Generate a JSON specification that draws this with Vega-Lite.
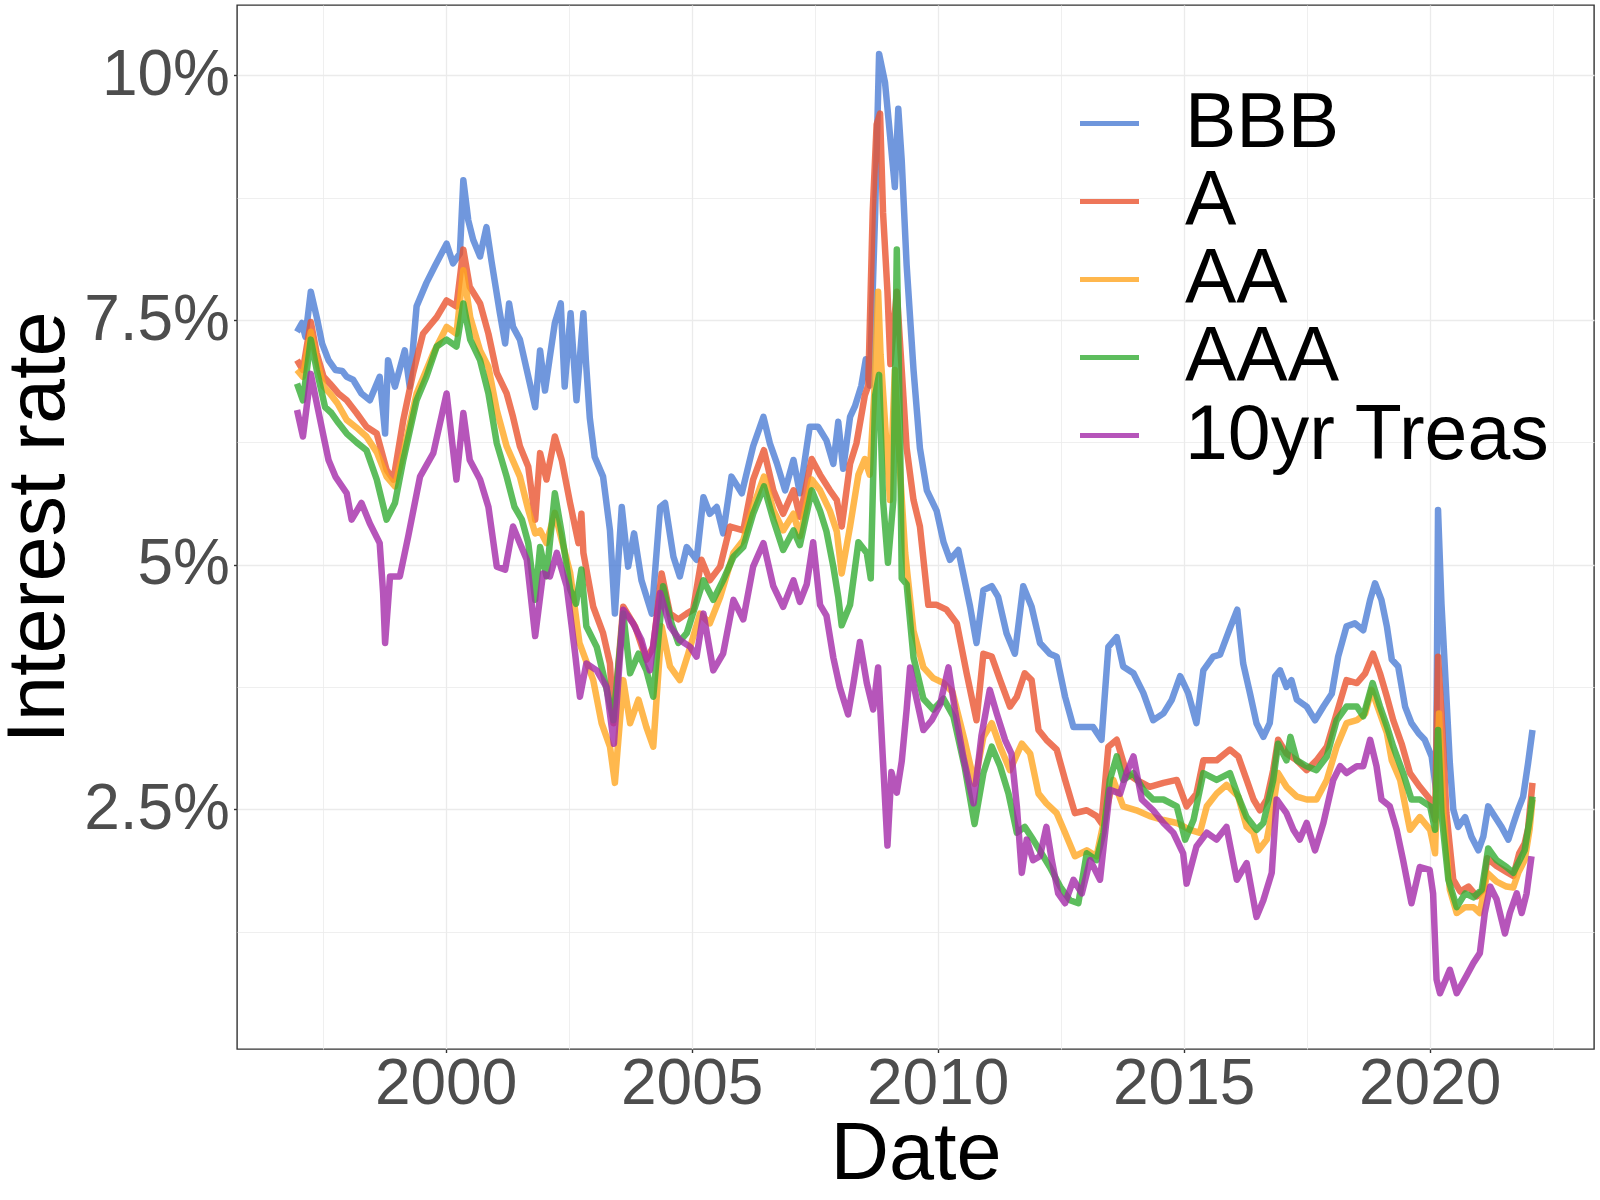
{
  "$schema": "https://vega.github.io/schema/vega-lite/v6.json",
  "width": 1357,
  "height": 1044,
  "autosize": {"type": "none"},
  "padding": {"left": 237, "top": 5, "right": 6, "bottom": 151},
  "background": "white",
  "config": {
    "view": {"stroke": "#333333", "strokeWidth": 1.4},
    "font": "Liberation Sans",
    "axis": {
      "labelFont": "Liberation Sans",
      "titleFont": "Liberation Sans",
      "labelColor": "#4D4D4D",
      "titleColor": "black",
      "labelFontSize": 64,
      "titleFontSize": 81,
      "titleFontWeight": "normal",
      "domain": false,
      "gridColor": "#EBEBEB",
      "tickColor": "#333333",
      "tickWidth": 1.4,
      "labelOverlap": false,
      "labelFlush": false
    }
  },
  "data": {
    "values": [
      {"s":"BBB","x":1996.98,"y":7.38},{"s":"BBB","x":1997.08,"y":7.47},{"s":"BBB","x":1997.15,"y":7.33},{"s":"BBB","x":1997.26,"y":7.79},
      {"s":"BBB","x":1997.38,"y":7.53},{"s":"BBB","x":1997.49,"y":7.26},{"s":"BBB","x":1997.62,"y":7.09},{"s":"BBB","x":1997.76,"y":6.99},
      {"s":"BBB","x":1997.9,"y":6.98},{"s":"BBB","x":1997.99,"y":6.92},{"s":"BBB","x":1998.12,"y":6.89},{"s":"BBB","x":1998.29,"y":6.75},
      {"s":"BBB","x":1998.46,"y":6.68},{"s":"BBB","x":1998.66,"y":6.92},{"s":"BBB","x":1998.77,"y":6.34},{"s":"BBB","x":1998.83,"y":7.09},
      {"s":"BBB","x":1998.97,"y":6.82},{"s":"BBB","x":1999.17,"y":7.19},{"s":"BBB","x":1999.27,"y":6.82},{"s":"BBB","x":1999.41,"y":7.64},
      {"s":"BBB","x":1999.61,"y":7.88},{"s":"BBB","x":1999.78,"y":8.05},{"s":"BBB","x":2000.02,"y":8.28},{"s":"BBB","x":2000.15,"y":8.08},
      {"s":"BBB","x":2000.29,"y":8.18},{"s":"BBB","x":2000.36,"y":8.93},{"s":"BBB","x":2000.46,"y":8.52},{"s":"BBB","x":2000.56,"y":8.32},
      {"s":"BBB","x":2000.7,"y":8.15},{"s":"BBB","x":2000.83,"y":8.45},{"s":"BBB","x":2000.93,"y":8.11},{"s":"BBB","x":2001.1,"y":7.58},
      {"s":"BBB","x":2001.21,"y":7.26},{"s":"BBB","x":2001.29,"y":7.67},{"s":"BBB","x":2001.37,"y":7.43},{"s":"BBB","x":2001.51,"y":7.3},
      {"s":"BBB","x":2001.65,"y":6.99},{"s":"BBB","x":2001.82,"y":6.61},{"s":"BBB","x":2001.92,"y":7.19},{"s":"BBB","x":2002.02,"y":6.78},
      {"s":"BBB","x":2002.12,"y":7.13},{"s":"BBB","x":2002.22,"y":7.47},{"s":"BBB","x":2002.34,"y":7.67},{"s":"BBB","x":2002.42,"y":6.82},
      {"s":"BBB","x":2002.54,"y":7.57},{"s":"BBB","x":2002.66,"y":6.68},{"s":"BBB","x":2002.8,"y":7.57},{"s":"BBB","x":2002.85,"y":7.09},
      {"s":"BBB","x":2002.93,"y":6.5},{"s":"BBB","x":2003.03,"y":6.1},{"s":"BBB","x":2003.2,"y":5.9},{"s":"BBB","x":2003.34,"y":5.35},
      {"s":"BBB","x":2003.44,"y":4.5},{"s":"BBB","x":2003.58,"y":5.59},{"s":"BBB","x":2003.71,"y":4.98},{"s":"BBB","x":2003.83,"y":5.32},
      {"s":"BBB","x":2003.98,"y":4.84},{"s":"BBB","x":2004.19,"y":4.5},{"s":"BBB","x":2004.36,"y":5.59},{"s":"BBB","x":2004.46,"y":5.63},
      {"s":"BBB","x":2004.63,"y":5.08},{"s":"BBB","x":2004.76,"y":4.88},{"s":"BBB","x":2004.9,"y":5.18},{"s":"BBB","x":2005.1,"y":5.05},
      {"s":"BBB","x":2005.24,"y":5.69},{"s":"BBB","x":2005.37,"y":5.52},{"s":"BBB","x":2005.51,"y":5.59},{"s":"BBB","x":2005.64,"y":5.32},
      {"s":"BBB","x":2005.81,"y":5.9},{"s":"BBB","x":2006.02,"y":5.73},{"s":"BBB","x":2006.25,"y":6.21},{"s":"BBB","x":2006.46,"y":6.51},
      {"s":"BBB","x":2006.59,"y":6.24},{"s":"BBB","x":2006.73,"y":6.04},{"s":"BBB","x":2006.9,"y":5.76},{"s":"BBB","x":2007.07,"y":6.07},
      {"s":"BBB","x":2007.2,"y":5.73},{"s":"BBB","x":2007.4,"y":6.41},{"s":"BBB","x":2007.57,"y":6.41},{"s":"BBB","x":2007.74,"y":6.27},
      {"s":"BBB","x":2007.88,"y":6.03},{"s":"BBB","x":2007.98,"y":6.46},{"s":"BBB","x":2008.08,"y":5.98},{"s":"BBB","x":2008.22,"y":6.51},
      {"s":"BBB","x":2008.32,"y":6.62},{"s":"BBB","x":2008.45,"y":6.83},{"s":"BBB","x":2008.54,"y":7.1},{"s":"BBB","x":2008.62,"y":6.83},
      {"s":"BBB","x":2008.73,"y":8.6},{"s":"BBB","x":2008.81,"y":10.22},{"s":"BBB","x":2008.93,"y":9.93},{"s":"BBB","x":2009.03,"y":9.4},
      {"s":"BBB","x":2009.13,"y":8.86},{"s":"BBB","x":2009.2,"y":9.66},{"s":"BBB","x":2009.27,"y":9.13},{"s":"BBB","x":2009.37,"y":8.06},
      {"s":"BBB","x":2009.51,"y":6.99},{"s":"BBB","x":2009.64,"y":6.19},{"s":"BBB","x":2009.78,"y":5.76},{"s":"BBB","x":2009.98,"y":5.55},
      {"s":"BBB","x":2010.12,"y":5.23},{"s":"BBB","x":2010.25,"y":5.05},{"s":"BBB","x":2010.42,"y":5.15},{"s":"BBB","x":2010.52,"y":4.91},
      {"s":"BBB","x":2010.66,"y":4.57},{"s":"BBB","x":2010.79,"y":4.2},{"s":"BBB","x":2010.93,"y":4.74},{"s":"BBB","x":2011.1,"y":4.78},
      {"s":"BBB","x":2011.23,"y":4.67},{"s":"BBB","x":2011.4,"y":4.3},{"s":"BBB","x":2011.57,"y":4.09},{"s":"BBB","x":2011.74,"y":4.78},
      {"s":"BBB","x":2011.91,"y":4.57},{"s":"BBB","x":2012.08,"y":4.2},{"s":"BBB","x":2012.28,"y":4.09},{"s":"BBB","x":2012.42,"y":4.06},
      {"s":"BBB","x":2012.59,"y":3.65},{"s":"BBB","x":2012.76,"y":3.34},{"s":"BBB","x":2012.96,"y":3.34},{"s":"BBB","x":2013.16,"y":3.34},
      {"s":"BBB","x":2013.33,"y":3.21},{"s":"BBB","x":2013.47,"y":4.16},{"s":"BBB","x":2013.64,"y":4.26},{"s":"BBB","x":2013.77,"y":3.96},
      {"s":"BBB","x":2013.98,"y":3.89},{"s":"BBB","x":2014.18,"y":3.69},{"s":"BBB","x":2014.38,"y":3.41},{"s":"BBB","x":2014.59,"y":3.48},
      {"s":"BBB","x":2014.76,"y":3.62},{"s":"BBB","x":2014.93,"y":3.86},{"s":"BBB","x":2015.09,"y":3.69},{"s":"BBB","x":2015.26,"y":3.38},
      {"s":"BBB","x":2015.4,"y":3.92},{"s":"BBB","x":2015.6,"y":4.06},{"s":"BBB","x":2015.74,"y":4.08},{"s":"BBB","x":2015.94,"y":4.35},
      {"s":"BBB","x":2016.09,"y":4.54},{"s":"BBB","x":2016.21,"y":3.99},{"s":"BBB","x":2016.35,"y":3.68},{"s":"BBB","x":2016.48,"y":3.38},
      {"s":"BBB","x":2016.62,"y":3.24},{"s":"BBB","x":2016.75,"y":3.38},{"s":"BBB","x":2016.86,"y":3.86},{"s":"BBB","x":2016.96,"y":3.92},
      {"s":"BBB","x":2017.09,"y":3.75},{"s":"BBB","x":2017.19,"y":3.82},{"s":"BBB","x":2017.3,"y":3.62},{"s":"BBB","x":2017.5,"y":3.55},
      {"s":"BBB","x":2017.67,"y":3.41},{"s":"BBB","x":2017.84,"y":3.55},{"s":"BBB","x":2018.01,"y":3.68},{"s":"BBB","x":2018.14,"y":4.06},
      {"s":"BBB","x":2018.31,"y":4.37},{"s":"BBB","x":2018.48,"y":4.4},{"s":"BBB","x":2018.65,"y":4.33},{"s":"BBB","x":2018.79,"y":4.64},
      {"s":"BBB","x":2018.89,"y":4.81},{"s":"BBB","x":2019.02,"y":4.64},{"s":"BBB","x":2019.13,"y":4.37},{"s":"BBB","x":2019.23,"y":4.03},
      {"s":"BBB","x":2019.36,"y":3.96},{"s":"BBB","x":2019.5,"y":3.55},{"s":"BBB","x":2019.63,"y":3.38},{"s":"BBB","x":2019.77,"y":3.28},
      {"s":"BBB","x":2019.9,"y":3.21},{"s":"BBB","x":2020.04,"y":3.04},{"s":"BBB","x":2020.13,"y":2.7},{"s":"BBB","x":2020.17,"y":5.56},
      {"s":"BBB","x":2020.24,"y":4.6},{"s":"BBB","x":2020.34,"y":3.65},{"s":"BBB","x":2020.41,"y":2.97},{"s":"BBB","x":2020.48,"y":2.5},
      {"s":"BBB","x":2020.58,"y":2.32},{"s":"BBB","x":2020.72,"y":2.42},{"s":"BBB","x":2020.85,"y":2.22},{"s":"BBB","x":2020.99,"y":2.08},
      {"s":"BBB","x":2021.09,"y":2.22},{"s":"BBB","x":2021.19,"y":2.53},{"s":"BBB","x":2021.33,"y":2.42},{"s":"BBB","x":2021.46,"y":2.32},
      {"s":"BBB","x":2021.6,"y":2.19},{"s":"BBB","x":2021.7,"y":2.35},{"s":"BBB","x":2021.8,"y":2.5},{"s":"BBB","x":2021.9,"y":2.63},
      {"s":"BBB","x":2022.0,"y":2.97},{"s":"BBB","x":2022.09,"y":3.31},

      {"s":"A","x":1996.98,"y":7.09},{"s":"A","x":1997.1,"y":6.99},{"s":"A","x":1997.26,"y":7.48},{"s":"A","x":1997.38,"y":7.16},
      {"s":"A","x":1997.52,"y":6.92},{"s":"A","x":1997.65,"y":6.85},{"s":"A","x":1997.82,"y":6.75},{"s":"A","x":1997.99,"y":6.68},
      {"s":"A","x":1998.19,"y":6.55},{"s":"A","x":1998.39,"y":6.41},{"s":"A","x":1998.6,"y":6.34},{"s":"A","x":1998.8,"y":5.97},
      {"s":"A","x":1998.94,"y":5.87},{"s":"A","x":1999.14,"y":6.48},{"s":"A","x":1999.34,"y":6.96},{"s":"A","x":1999.54,"y":7.36},
      {"s":"A","x":1999.82,"y":7.53},{"s":"A","x":2000.02,"y":7.7},{"s":"A","x":2000.22,"y":7.64},{"s":"A","x":2000.36,"y":8.22},
      {"s":"A","x":2000.49,"y":7.84},{"s":"A","x":2000.7,"y":7.67},{"s":"A","x":2000.87,"y":7.36},{"s":"A","x":2001.04,"y":6.96},
      {"s":"A","x":2001.24,"y":6.75},{"s":"A","x":2001.37,"y":6.51},{"s":"A","x":2001.51,"y":6.21},{"s":"A","x":2001.68,"y":6.0},
      {"s":"A","x":2001.82,"y":5.46},{"s":"A","x":2001.92,"y":6.14},{"s":"A","x":2002.05,"y":5.87},{"s":"A","x":2002.22,"y":6.31},
      {"s":"A","x":2002.36,"y":6.07},{"s":"A","x":2002.53,"y":5.63},{"s":"A","x":2002.7,"y":5.22},{"s":"A","x":2002.76,"y":5.52},
      {"s":"A","x":2002.8,"y":5.12},{"s":"A","x":2003.0,"y":4.57},{"s":"A","x":2003.2,"y":4.3},{"s":"A","x":2003.34,"y":3.99},
      {"s":"A","x":2003.41,"y":3.38},{"s":"A","x":2003.61,"y":4.57},{"s":"A","x":2003.85,"y":4.37},{"s":"A","x":2004.08,"y":4.03},
      {"s":"A","x":2004.22,"y":4.16},{"s":"A","x":2004.39,"y":4.91},{"s":"A","x":2004.56,"y":4.5},{"s":"A","x":2004.73,"y":4.44},
      {"s":"A","x":2004.9,"y":4.5},{"s":"A","x":2005.03,"y":4.54},{"s":"A","x":2005.2,"y":5.05},{"s":"A","x":2005.37,"y":4.84},
      {"s":"A","x":2005.58,"y":4.98},{"s":"A","x":2005.78,"y":5.39},{"s":"A","x":2006.05,"y":5.35},{"s":"A","x":2006.25,"y":5.87},
      {"s":"A","x":2006.47,"y":6.17},{"s":"A","x":2006.66,"y":5.76},{"s":"A","x":2006.86,"y":5.52},{"s":"A","x":2007.07,"y":5.76},
      {"s":"A","x":2007.2,"y":5.49},{"s":"A","x":2007.44,"y":6.08},{"s":"A","x":2007.61,"y":5.92},{"s":"A","x":2007.81,"y":5.76},
      {"s":"A","x":2007.95,"y":5.66},{"s":"A","x":2008.05,"y":5.39},{"s":"A","x":2008.22,"y":6.03},{"s":"A","x":2008.35,"y":6.24},
      {"s":"A","x":2008.52,"y":6.73},{"s":"A","x":2008.59,"y":6.83},{"s":"A","x":2008.68,"y":8.6},{"s":"A","x":2008.76,"y":9.5},
      {"s":"A","x":2008.83,"y":9.61},{"s":"A","x":2008.89,"y":8.6},{"s":"A","x":2008.98,"y":7.79},{"s":"A","x":2009.04,"y":7.05},
      {"s":"A","x":2009.17,"y":7.79},{"s":"A","x":2009.27,"y":6.99},{"s":"A","x":2009.37,"y":6.19},{"s":"A","x":2009.51,"y":5.66},
      {"s":"A","x":2009.64,"y":5.39},{"s":"A","x":2009.81,"y":4.59},{"s":"A","x":2009.98,"y":4.59},{"s":"A","x":2010.18,"y":4.54},
      {"s":"A","x":2010.39,"y":4.4},{"s":"A","x":2010.59,"y":3.89},{"s":"A","x":2010.79,"y":3.41},{"s":"A","x":2010.93,"y":4.09},
      {"s":"A","x":2011.1,"y":4.06},{"s":"A","x":2011.27,"y":3.82},{"s":"A","x":2011.47,"y":3.55},{"s":"A","x":2011.61,"y":3.65},
      {"s":"A","x":2011.77,"y":3.89},{"s":"A","x":2011.91,"y":3.82},{"s":"A","x":2012.05,"y":3.31},{"s":"A","x":2012.21,"y":3.21},
      {"s":"A","x":2012.42,"y":3.11},{"s":"A","x":2012.59,"y":2.8},{"s":"A","x":2012.79,"y":2.46},{"s":"A","x":2013.03,"y":2.49},
      {"s":"A","x":2013.23,"y":2.43},{"s":"A","x":2013.33,"y":2.36},{"s":"A","x":2013.47,"y":3.14},{"s":"A","x":2013.64,"y":3.21},
      {"s":"A","x":2013.84,"y":2.87},{"s":"A","x":2014.04,"y":2.8},{"s":"A","x":2014.31,"y":2.73},{"s":"A","x":2014.59,"y":2.77},
      {"s":"A","x":2014.86,"y":2.8},{"s":"A","x":2015.06,"y":2.53},{"s":"A","x":2015.26,"y":2.66},{"s":"A","x":2015.4,"y":3.0},
      {"s":"A","x":2015.67,"y":3.0},{"s":"A","x":2015.94,"y":3.11},{"s":"A","x":2016.11,"y":3.04},{"s":"A","x":2016.28,"y":2.8},
      {"s":"A","x":2016.42,"y":2.6},{"s":"A","x":2016.55,"y":2.49},{"s":"A","x":2016.69,"y":2.6},{"s":"A","x":2016.82,"y":2.9},
      {"s":"A","x":2016.92,"y":3.21},{"s":"A","x":2017.09,"y":3.07},{"s":"A","x":2017.3,"y":3.0},{"s":"A","x":2017.5,"y":2.9},
      {"s":"A","x":2017.7,"y":3.0},{"s":"A","x":2017.91,"y":3.14},{"s":"A","x":2018.11,"y":3.48},{"s":"A","x":2018.31,"y":3.82},
      {"s":"A","x":2018.52,"y":3.79},{"s":"A","x":2018.69,"y":3.89},{"s":"A","x":2018.85,"y":4.09},{"s":"A","x":2018.99,"y":3.89},
      {"s":"A","x":2019.13,"y":3.65},{"s":"A","x":2019.26,"y":3.41},{"s":"A","x":2019.43,"y":3.17},{"s":"A","x":2019.6,"y":2.87},
      {"s":"A","x":2019.8,"y":2.73},{"s":"A","x":2020.01,"y":2.6},{"s":"A","x":2020.11,"y":2.39},{"s":"A","x":2020.17,"y":4.06},
      {"s":"A","x":2020.24,"y":3.48},{"s":"A","x":2020.34,"y":2.46},{"s":"A","x":2020.48,"y":1.78},{"s":"A","x":2020.62,"y":1.66},
      {"s":"A","x":2020.79,"y":1.71},{"s":"A","x":2020.96,"y":1.61},{"s":"A","x":2021.09,"y":1.68},{"s":"A","x":2021.17,"y":2.0},
      {"s":"A","x":2021.36,"y":1.92},{"s":"A","x":2021.56,"y":1.86},{"s":"A","x":2021.7,"y":1.82},{"s":"A","x":2021.82,"y":2.05},
      {"s":"A","x":2021.93,"y":2.15},{"s":"A","x":2022.0,"y":2.3},{"s":"A","x":2022.09,"y":2.77},

      {"s":"AA","x":1996.98,"y":6.99},{"s":"AA","x":1997.1,"y":6.92},{"s":"AA","x":1997.26,"y":7.38},{"s":"AA","x":1997.38,"y":7.09},
      {"s":"AA","x":1997.52,"y":6.82},{"s":"AA","x":1997.65,"y":6.75},{"s":"AA","x":1997.8,"y":6.65},{"s":"AA","x":1997.99,"y":6.48},
      {"s":"AA","x":1998.19,"y":6.4},{"s":"AA","x":1998.39,"y":6.31},{"s":"AA","x":1998.6,"y":6.15},{"s":"AA","x":1998.8,"y":5.9},
      {"s":"AA","x":1998.97,"y":5.8},{"s":"AA","x":1999.14,"y":6.14},{"s":"AA","x":1999.41,"y":6.75},{"s":"AA","x":1999.75,"y":7.16},
      {"s":"AA","x":2000.02,"y":7.43},{"s":"AA","x":2000.22,"y":7.36},{"s":"AA","x":2000.36,"y":8.01},{"s":"AA","x":2000.5,"y":7.53},
      {"s":"AA","x":2000.7,"y":7.19},{"s":"AA","x":2000.87,"y":7.02},{"s":"AA","x":2001.04,"y":6.58},{"s":"AA","x":2001.24,"y":6.21},
      {"s":"AA","x":2001.51,"y":5.9},{"s":"AA","x":2001.68,"y":5.56},{"s":"AA","x":2001.82,"y":5.32},{"s":"AA","x":2001.92,"y":5.35},
      {"s":"AA","x":2002.05,"y":5.22},{"s":"AA","x":2002.22,"y":5.53},{"s":"AA","x":2002.36,"y":5.25},{"s":"AA","x":2002.53,"y":4.92},
      {"s":"AA","x":2002.72,"y":4.2},{"s":"AA","x":2003.0,"y":3.82},{"s":"AA","x":2003.17,"y":3.38},{"s":"AA","x":2003.34,"y":3.14},
      {"s":"AA","x":2003.44,"y":2.77},{"s":"AA","x":2003.61,"y":3.82},{"s":"AA","x":2003.75,"y":3.38},{"s":"AA","x":2003.92,"y":3.62},
      {"s":"AA","x":2004.08,"y":3.34},{"s":"AA","x":2004.22,"y":3.14},{"s":"AA","x":2004.39,"y":4.37},{"s":"AA","x":2004.56,"y":3.96},
      {"s":"AA","x":2004.76,"y":3.82},{"s":"AA","x":2004.93,"y":4.09},{"s":"AA","x":2005.17,"y":4.5},{"s":"AA","x":2005.37,"y":4.4},
      {"s":"AA","x":2005.58,"y":4.67},{"s":"AA","x":2005.85,"y":5.12},{"s":"AA","x":2006.05,"y":5.25},{"s":"AA","x":2006.25,"y":5.59},
      {"s":"AA","x":2006.47,"y":5.9},{"s":"AA","x":2006.66,"y":5.56},{"s":"AA","x":2006.86,"y":5.35},{"s":"AA","x":2007.07,"y":5.52},
      {"s":"AA","x":2007.2,"y":5.29},{"s":"AA","x":2007.44,"y":5.87},{"s":"AA","x":2007.61,"y":5.76},{"s":"AA","x":2007.81,"y":5.55},
      {"s":"AA","x":2007.95,"y":5.34},{"s":"AA","x":2008.05,"y":4.91},{"s":"AA","x":2008.22,"y":5.39},{"s":"AA","x":2008.39,"y":5.92},
      {"s":"AA","x":2008.52,"y":6.08},{"s":"AA","x":2008.62,"y":5.92},{"s":"AA","x":2008.71,"y":6.73},{"s":"AA","x":2008.79,"y":7.79},
      {"s":"AA","x":2008.84,"y":7.15},{"s":"AA","x":2008.93,"y":6.46},{"s":"AA","x":2009.03,"y":5.66},{"s":"AA","x":2009.13,"y":6.99},
      {"s":"AA","x":2009.24,"y":5.92},{"s":"AA","x":2009.34,"y":5.12},{"s":"AA","x":2009.51,"y":4.32},{"s":"AA","x":2009.71,"y":3.95},
      {"s":"AA","x":2009.91,"y":3.84},{"s":"AA","x":2010.12,"y":3.79},{"s":"AA","x":2010.3,"y":3.7},{"s":"AA","x":2010.55,"y":3.2},
      {"s":"AA","x":2010.75,"y":2.76},{"s":"AA","x":2010.93,"y":3.24},{"s":"AA","x":2011.1,"y":3.38},{"s":"AA","x":2011.27,"y":3.14},
      {"s":"AA","x":2011.47,"y":2.9},{"s":"AA","x":2011.71,"y":3.17},{"s":"AA","x":2011.88,"y":3.07},{"s":"AA","x":2012.05,"y":2.66},
      {"s":"AA","x":2012.21,"y":2.56},{"s":"AA","x":2012.42,"y":2.46},{"s":"AA","x":2012.59,"y":2.26},{"s":"AA","x":2012.79,"y":2.02},
      {"s":"AA","x":2013.03,"y":2.08},{"s":"AA","x":2013.23,"y":2.02},{"s":"AA","x":2013.4,"y":2.43},{"s":"AA","x":2013.57,"y":2.8},
      {"s":"AA","x":2013.77,"y":2.53},{"s":"AA","x":2014.04,"y":2.49},{"s":"AA","x":2014.31,"y":2.43},{"s":"AA","x":2014.59,"y":2.39},
      {"s":"AA","x":2014.86,"y":2.36},{"s":"AA","x":2015.13,"y":2.29},{"s":"AA","x":2015.33,"y":2.26},{"s":"AA","x":2015.47,"y":2.53},
      {"s":"AA","x":2015.67,"y":2.66},{"s":"AA","x":2015.87,"y":2.75},{"s":"AA","x":2016.11,"y":2.63},{"s":"AA","x":2016.28,"y":2.32},
      {"s":"AA","x":2016.42,"y":2.26},{"s":"AA","x":2016.52,"y":2.08},{"s":"AA","x":2016.69,"y":2.19},{"s":"AA","x":2016.82,"y":2.53},
      {"s":"AA","x":2016.92,"y":2.87},{"s":"AA","x":2017.09,"y":2.73},{"s":"AA","x":2017.3,"y":2.63},{"s":"AA","x":2017.5,"y":2.6},
      {"s":"AA","x":2017.7,"y":2.6},{"s":"AA","x":2017.91,"y":2.8},{"s":"AA","x":2018.11,"y":3.14},{"s":"AA","x":2018.31,"y":3.38},
      {"s":"AA","x":2018.52,"y":3.41},{"s":"AA","x":2018.69,"y":3.48},{"s":"AA","x":2018.82,"y":3.72},{"s":"AA","x":2018.99,"y":3.48},
      {"s":"AA","x":2019.13,"y":3.28},{"s":"AA","x":2019.23,"y":3.0},{"s":"AA","x":2019.4,"y":2.8},{"s":"AA","x":2019.6,"y":2.29},
      {"s":"AA","x":2019.8,"y":2.42},{"s":"AA","x":2020.01,"y":2.29},{"s":"AA","x":2020.11,"y":2.05},{"s":"AA","x":2020.19,"y":3.48},
      {"s":"AA","x":2020.28,"y":2.46},{"s":"AA","x":2020.41,"y":1.68},{"s":"AA","x":2020.55,"y":1.44},{"s":"AA","x":2020.72,"y":1.5},
      {"s":"AA","x":2020.89,"y":1.5},{"s":"AA","x":2021.02,"y":1.44},{"s":"AA","x":2021.17,"y":1.85},{"s":"AA","x":2021.36,"y":1.76},
      {"s":"AA","x":2021.56,"y":1.71},{"s":"AA","x":2021.7,"y":1.7},{"s":"AA","x":2021.8,"y":1.85},{"s":"AA","x":2021.93,"y":1.98},
      {"s":"AA","x":2022.03,"y":2.29},{"s":"AA","x":2022.09,"y":2.6},

      {"s":"AAA","x":1996.98,"y":6.85},{"s":"AAA","x":1997.1,"y":6.68},{"s":"AAA","x":1997.26,"y":7.3},{"s":"AAA","x":1997.38,"y":6.99},
      {"s":"AAA","x":1997.55,"y":6.61},{"s":"AAA","x":1997.68,"y":6.55},{"s":"AAA","x":1997.82,"y":6.45},{"s":"AAA","x":1997.99,"y":6.34},
      {"s":"AAA","x":1998.19,"y":6.25},{"s":"AAA","x":1998.39,"y":6.17},{"s":"AAA","x":1998.6,"y":5.87},{"s":"AAA","x":1998.8,"y":5.46},
      {"s":"AAA","x":1998.97,"y":5.63},{"s":"AAA","x":1999.14,"y":6.07},{"s":"AAA","x":1999.41,"y":6.68},{"s":"AAA","x":1999.61,"y":6.92},
      {"s":"AAA","x":1999.82,"y":7.23},{"s":"AAA","x":2000.02,"y":7.3},{"s":"AAA","x":2000.22,"y":7.23},{"s":"AAA","x":2000.36,"y":7.67},
      {"s":"AAA","x":2000.5,"y":7.3},{"s":"AAA","x":2000.7,"y":7.09},{"s":"AAA","x":2000.87,"y":6.75},{"s":"AAA","x":2001.04,"y":6.24},
      {"s":"AAA","x":2001.24,"y":5.9},{"s":"AAA","x":2001.4,"y":5.59},{"s":"AAA","x":2001.55,"y":5.46},{"s":"AAA","x":2001.68,"y":5.22},
      {"s":"AAA","x":2001.82,"y":4.64},{"s":"AAA","x":2001.92,"y":5.18},{"s":"AAA","x":2002.05,"y":4.88},{"s":"AAA","x":2002.22,"y":5.73},
      {"s":"AAA","x":2002.36,"y":5.32},{"s":"AAA","x":2002.53,"y":4.75},{"s":"AAA","x":2002.65,"y":4.6},{"s":"AAA","x":2002.76,"y":4.95},
      {"s":"AAA","x":2002.86,"y":4.37},{"s":"AAA","x":2003.07,"y":4.16},{"s":"AAA","x":2003.2,"y":3.89},{"s":"AAA","x":2003.41,"y":3.41},
      {"s":"AAA","x":2003.61,"y":4.5},{"s":"AAA","x":2003.75,"y":3.89},{"s":"AAA","x":2003.92,"y":4.09},{"s":"AAA","x":2004.08,"y":3.92},
      {"s":"AAA","x":2004.22,"y":3.65},{"s":"AAA","x":2004.42,"y":4.78},{"s":"AAA","x":2004.59,"y":4.4},{"s":"AAA","x":2004.73,"y":4.2},
      {"s":"AAA","x":2004.9,"y":4.3},{"s":"AAA","x":2005.24,"y":4.84},{"s":"AAA","x":2005.44,"y":4.64},{"s":"AAA","x":2005.64,"y":4.84},
      {"s":"AAA","x":2005.85,"y":5.08},{"s":"AAA","x":2006.05,"y":5.18},{"s":"AAA","x":2006.25,"y":5.52},{"s":"AAA","x":2006.47,"y":5.8},
      {"s":"AAA","x":2006.66,"y":5.46},{"s":"AAA","x":2006.86,"y":5.15},{"s":"AAA","x":2007.07,"y":5.35},{"s":"AAA","x":2007.2,"y":5.2},
      {"s":"AAA","x":2007.44,"y":5.76},{"s":"AAA","x":2007.61,"y":5.55},{"s":"AAA","x":2007.74,"y":5.34},{"s":"AAA","x":2007.88,"y":4.98},
      {"s":"AAA","x":2007.98,"y":4.67},{"s":"AAA","x":2008.05,"y":4.38},{"s":"AAA","x":2008.22,"y":4.59},{"s":"AAA","x":2008.39,"y":5.23},
      {"s":"AAA","x":2008.56,"y":5.12},{"s":"AAA","x":2008.64,"y":4.86},{"s":"AAA","x":2008.73,"y":6.73},{"s":"AAA","x":2008.81,"y":6.94},
      {"s":"AAA","x":2008.89,"y":5.66},{"s":"AAA","x":2008.99,"y":5.02},{"s":"AAA","x":2009.1,"y":5.66},{"s":"AAA","x":2009.17,"y":8.22},
      {"s":"AAA","x":2009.24,"y":6.19},{"s":"AAA","x":2009.27,"y":4.86},{"s":"AAA","x":2009.37,"y":4.8},{"s":"AAA","x":2009.51,"y":4.05},
      {"s":"AAA","x":2009.71,"y":3.63},{"s":"AAA","x":2009.91,"y":3.52},{"s":"AAA","x":2010.12,"y":3.63},{"s":"AAA","x":2010.32,"y":3.45},
      {"s":"AAA","x":2010.55,"y":2.93},{"s":"AAA","x":2010.75,"y":2.35},{"s":"AAA","x":2010.93,"y":2.87},{"s":"AAA","x":2011.1,"y":3.14},
      {"s":"AAA","x":2011.27,"y":2.94},{"s":"AAA","x":2011.44,"y":2.66},{"s":"AAA","x":2011.61,"y":2.26},{"s":"AAA","x":2011.77,"y":2.32},
      {"s":"AAA","x":2011.94,"y":2.19},{"s":"AAA","x":2012.11,"y":2.05},{"s":"AAA","x":2012.28,"y":1.91},{"s":"AAA","x":2012.49,"y":1.71},
      {"s":"AAA","x":2012.69,"y":1.57},{"s":"AAA","x":2012.86,"y":1.54},{"s":"AAA","x":2013.03,"y":2.05},{"s":"AAA","x":2013.23,"y":1.98},
      {"s":"AAA","x":2013.37,"y":2.26},{"s":"AAA","x":2013.5,"y":2.8},{"s":"AAA","x":2013.64,"y":3.04},{"s":"AAA","x":2013.77,"y":2.8},
      {"s":"AAA","x":2013.98,"y":2.87},{"s":"AAA","x":2014.18,"y":2.7},{"s":"AAA","x":2014.38,"y":2.6},{"s":"AAA","x":2014.59,"y":2.6},
      {"s":"AAA","x":2014.86,"y":2.53},{"s":"AAA","x":2015.03,"y":2.19},{"s":"AAA","x":2015.2,"y":2.39},{"s":"AAA","x":2015.4,"y":2.87},
      {"s":"AAA","x":2015.67,"y":2.8},{"s":"AAA","x":2015.94,"y":2.87},{"s":"AAA","x":2016.11,"y":2.63},{"s":"AAA","x":2016.28,"y":2.42},
      {"s":"AAA","x":2016.48,"y":2.29},{"s":"AAA","x":2016.62,"y":2.36},{"s":"AAA","x":2016.82,"y":2.8},{"s":"AAA","x":2016.92,"y":3.17},
      {"s":"AAA","x":2017.09,"y":3.0},{"s":"AAA","x":2017.17,"y":3.24},{"s":"AAA","x":2017.3,"y":3.0},{"s":"AAA","x":2017.5,"y":2.94},
      {"s":"AAA","x":2017.7,"y":2.9},{"s":"AAA","x":2017.91,"y":3.04},{"s":"AAA","x":2018.11,"y":3.41},{"s":"AAA","x":2018.31,"y":3.55},
      {"s":"AAA","x":2018.52,"y":3.55},{"s":"AAA","x":2018.65,"y":3.45},{"s":"AAA","x":2018.84,"y":3.79},{"s":"AAA","x":2018.99,"y":3.55},
      {"s":"AAA","x":2019.13,"y":3.35},{"s":"AAA","x":2019.26,"y":3.14},{"s":"AAA","x":2019.46,"y":2.87},{"s":"AAA","x":2019.63,"y":2.6},
      {"s":"AAA","x":2019.8,"y":2.6},{"s":"AAA","x":2020.01,"y":2.53},{"s":"AAA","x":2020.11,"y":2.29},{"s":"AAA","x":2020.17,"y":3.31},
      {"s":"AAA","x":2020.24,"y":2.46},{"s":"AAA","x":2020.38,"y":1.78},{"s":"AAA","x":2020.55,"y":1.5},{"s":"AAA","x":2020.72,"y":1.64},
      {"s":"AAA","x":2020.89,"y":1.6},{"s":"AAA","x":2021.06,"y":1.68},{"s":"AAA","x":2021.19,"y":2.1},{"s":"AAA","x":2021.36,"y":1.98},
      {"s":"AAA","x":2021.56,"y":1.91},{"s":"AAA","x":2021.7,"y":1.85},{"s":"AAA","x":2021.8,"y":1.95},{"s":"AAA","x":2021.93,"y":2.08},
      {"s":"AAA","x":2022.03,"y":2.39},{"s":"AAA","x":2022.09,"y":2.63},

      {"s":"10yr Treas","x":1996.98,"y":6.58},{"s":"10yr Treas","x":1997.1,"y":6.31},{"s":"10yr Treas","x":1997.26,"y":6.95},{"s":"10yr Treas","x":1997.38,"y":6.65},
      {"s":"10yr Treas","x":1997.52,"y":6.31},{"s":"10yr Treas","x":1997.62,"y":6.07},{"s":"10yr Treas","x":1997.76,"y":5.9},{"s":"10yr Treas","x":1997.99,"y":5.73},
      {"s":"10yr Treas","x":1998.09,"y":5.46},{"s":"10yr Treas","x":1998.29,"y":5.63},{"s":"10yr Treas","x":1998.46,"y":5.42},{"s":"10yr Treas","x":1998.66,"y":5.22},
      {"s":"10yr Treas","x":1998.73,"y":4.71},{"s":"10yr Treas","x":1998.77,"y":4.2},{"s":"10yr Treas","x":1998.87,"y":4.88},{"s":"10yr Treas","x":1999.07,"y":4.88},
      {"s":"10yr Treas","x":1999.24,"y":5.29},{"s":"10yr Treas","x":1999.48,"y":5.9},{"s":"10yr Treas","x":1999.75,"y":6.14},{"s":"10yr Treas","x":2000.02,"y":6.75},
      {"s":"10yr Treas","x":2000.22,"y":5.87},{"s":"10yr Treas","x":2000.36,"y":6.55},{"s":"10yr Treas","x":2000.49,"y":6.07},{"s":"10yr Treas","x":2000.7,"y":5.87},
      {"s":"10yr Treas","x":2000.87,"y":5.59},{"s":"10yr Treas","x":2001.04,"y":4.98},{"s":"10yr Treas","x":2001.21,"y":4.95},{"s":"10yr Treas","x":2001.37,"y":5.39},
      {"s":"10yr Treas","x":2001.51,"y":5.22},{"s":"10yr Treas","x":2001.65,"y":5.05},{"s":"10yr Treas","x":2001.82,"y":4.27},{"s":"10yr Treas","x":2001.98,"y":4.91},
      {"s":"10yr Treas","x":2002.12,"y":4.88},{"s":"10yr Treas","x":2002.26,"y":5.12},{"s":"10yr Treas","x":2002.46,"y":4.78},{"s":"10yr Treas","x":2002.63,"y":4.1},
      {"s":"10yr Treas","x":2002.73,"y":3.65},{"s":"10yr Treas","x":2002.86,"y":3.99},{"s":"10yr Treas","x":2003.07,"y":3.92},{"s":"10yr Treas","x":2003.27,"y":3.75},
      {"s":"10yr Treas","x":2003.42,"y":3.17},{"s":"10yr Treas","x":2003.61,"y":4.54},{"s":"10yr Treas","x":2003.81,"y":4.4},{"s":"10yr Treas","x":2003.98,"y":4.23},
      {"s":"10yr Treas","x":2004.15,"y":3.92},{"s":"10yr Treas","x":2004.36,"y":4.71},{"s":"10yr Treas","x":2004.56,"y":4.37},{"s":"10yr Treas","x":2004.76,"y":4.23},
      {"s":"10yr Treas","x":2004.97,"y":4.16},{"s":"10yr Treas","x":2005.1,"y":4.06},{"s":"10yr Treas","x":2005.24,"y":4.5},{"s":"10yr Treas","x":2005.44,"y":3.92},
      {"s":"10yr Treas","x":2005.64,"y":4.09},{"s":"10yr Treas","x":2005.85,"y":4.64},{"s":"10yr Treas","x":2006.05,"y":4.44},{"s":"10yr Treas","x":2006.25,"y":4.98},
      {"s":"10yr Treas","x":2006.46,"y":5.22},{"s":"10yr Treas","x":2006.66,"y":4.78},{"s":"10yr Treas","x":2006.86,"y":4.57},{"s":"10yr Treas","x":2007.07,"y":4.84},
      {"s":"10yr Treas","x":2007.2,"y":4.62},{"s":"10yr Treas","x":2007.34,"y":4.8},{"s":"10yr Treas","x":2007.47,"y":5.23},{"s":"10yr Treas","x":2007.61,"y":4.59},
      {"s":"10yr Treas","x":2007.74,"y":4.48},{"s":"10yr Treas","x":2007.88,"y":4.05},{"s":"10yr Treas","x":2008.01,"y":3.75},{"s":"10yr Treas","x":2008.18,"y":3.47},
      {"s":"10yr Treas","x":2008.29,"y":3.79},{"s":"10yr Treas","x":2008.42,"y":4.21},{"s":"10yr Treas","x":2008.56,"y":3.79},{"s":"10yr Treas","x":2008.69,"y":3.52},
      {"s":"10yr Treas","x":2008.79,"y":3.95},{"s":"10yr Treas","x":2008.89,"y":2.99},{"s":"10yr Treas","x":2008.98,"y":2.13},{"s":"10yr Treas","x":2009.06,"y":2.88},
      {"s":"10yr Treas","x":2009.17,"y":2.67},{"s":"10yr Treas","x":2009.27,"y":2.99},{"s":"10yr Treas","x":2009.37,"y":3.52},{"s":"10yr Treas","x":2009.44,"y":3.95},
      {"s":"10yr Treas","x":2009.57,"y":3.63},{"s":"10yr Treas","x":2009.71,"y":3.31},{"s":"10yr Treas","x":2009.88,"y":3.41},{"s":"10yr Treas","x":2010.05,"y":3.57},
      {"s":"10yr Treas","x":2010.22,"y":3.95},{"s":"10yr Treas","x":2010.35,"y":3.52},{"s":"10yr Treas","x":2010.52,"y":3.04},{"s":"10yr Treas","x":2010.73,"y":2.56},
      {"s":"10yr Treas","x":2010.89,"y":3.25},{"s":"10yr Treas","x":2011.06,"y":3.72},{"s":"10yr Treas","x":2011.2,"y":3.48},{"s":"10yr Treas","x":2011.37,"y":3.21},
      {"s":"10yr Treas","x":2011.5,"y":3.07},{"s":"10yr Treas","x":2011.61,"y":2.53},{"s":"10yr Treas","x":2011.71,"y":1.85},{"s":"10yr Treas","x":2011.81,"y":2.19},
      {"s":"10yr Treas","x":2011.94,"y":1.98},{"s":"10yr Treas","x":2012.08,"y":2.02},{"s":"10yr Treas","x":2012.21,"y":2.32},{"s":"10yr Treas","x":2012.32,"y":1.98},
      {"s":"10yr Treas","x":2012.45,"y":1.64},{"s":"10yr Treas","x":2012.59,"y":1.54},{"s":"10yr Treas","x":2012.76,"y":1.78},{"s":"10yr Treas","x":2012.93,"y":1.64},
      {"s":"10yr Treas","x":2013.1,"y":1.98},{"s":"10yr Treas","x":2013.3,"y":1.78},{"s":"10yr Treas","x":2013.5,"y":2.7},{"s":"10yr Treas","x":2013.71,"y":2.66},
      {"s":"10yr Treas","x":2013.84,"y":2.87},{"s":"10yr Treas","x":2013.98,"y":3.04},{"s":"10yr Treas","x":2014.15,"y":2.6},{"s":"10yr Treas","x":2014.38,"y":2.49},
      {"s":"10yr Treas","x":2014.59,"y":2.36},{"s":"10yr Treas","x":2014.79,"y":2.26},{"s":"10yr Treas","x":2014.99,"y":2.05},{"s":"10yr Treas","x":2015.06,"y":1.74},
      {"s":"10yr Treas","x":2015.26,"y":2.12},{"s":"10yr Treas","x":2015.47,"y":2.26},{"s":"10yr Treas","x":2015.67,"y":2.19},{"s":"10yr Treas","x":2015.87,"y":2.32},
      {"s":"10yr Treas","x":2016.08,"y":1.78},{"s":"10yr Treas","x":2016.28,"y":1.95},{"s":"10yr Treas","x":2016.48,"y":1.4},{"s":"10yr Treas","x":2016.62,"y":1.57},
      {"s":"10yr Treas","x":2016.79,"y":1.85},{"s":"10yr Treas","x":2016.89,"y":2.6},{"s":"10yr Treas","x":2017.09,"y":2.46},{"s":"10yr Treas","x":2017.23,"y":2.29},
      {"s":"10yr Treas","x":2017.36,"y":2.19},{"s":"10yr Treas","x":2017.5,"y":2.36},{"s":"10yr Treas","x":2017.67,"y":2.08},{"s":"10yr Treas","x":2017.84,"y":2.36},
      {"s":"10yr Treas","x":2018.04,"y":2.8},{"s":"10yr Treas","x":2018.18,"y":2.94},{"s":"10yr Treas","x":2018.31,"y":2.87},{"s":"10yr Treas","x":2018.52,"y":2.94},
      {"s":"10yr Treas","x":2018.65,"y":2.94},{"s":"10yr Treas","x":2018.79,"y":3.21},{"s":"10yr Treas","x":2018.92,"y":2.94},{"s":"10yr Treas","x":2019.02,"y":2.6},
      {"s":"10yr Treas","x":2019.19,"y":2.53},{"s":"10yr Treas","x":2019.33,"y":2.29},{"s":"10yr Treas","x":2019.46,"y":1.98},{"s":"10yr Treas","x":2019.63,"y":1.54},
      {"s":"10yr Treas","x":2019.8,"y":1.91},{"s":"10yr Treas","x":2020.0,"y":1.88},{"s":"10yr Treas","x":2020.07,"y":1.64},{"s":"10yr Treas","x":2020.14,"y":0.76},
      {"s":"10yr Treas","x":2020.21,"y":0.62},{"s":"10yr Treas","x":2020.41,"y":0.86},{"s":"10yr Treas","x":2020.55,"y":0.62},{"s":"10yr Treas","x":2020.75,"y":0.8},
      {"s":"10yr Treas","x":2020.89,"y":0.93},{"s":"10yr Treas","x":2021.02,"y":1.03},{"s":"10yr Treas","x":2021.12,"y":1.44},{"s":"10yr Treas","x":2021.23,"y":1.71},
      {"s":"10yr Treas","x":2021.36,"y":1.58},{"s":"10yr Treas","x":2021.53,"y":1.23},{"s":"10yr Treas","x":2021.63,"y":1.44},{"s":"10yr Treas","x":2021.77,"y":1.64},
      {"s":"10yr Treas","x":2021.87,"y":1.44},{"s":"10yr Treas","x":2021.97,"y":1.64},{"s":"10yr Treas","x":2022.07,"y":2.02}
    ]
  },
  "mark": {"type": "line", "strokeWidth": 6.5, "opacity": 0.8, "strokeJoin": "round"},
  "encoding": {
    "x": {
      "field": "x",
      "type": "quantitative",
      "title": "Date",
      "scale": {"domain": [1995.76, 2023.34], "nice": false, "zero": false},
      "axis": {
        "values": [1997.5, 2000, 2002.5, 2005, 2007.5, 2010, 2012.5, 2015, 2017.5, 2020, 2022.5],
        "labelExpr": "datum.value % 5 == 0 ? format(datum.value, 'd') : ''",
        "gridWidth": {"condition": {"test": "datum.value % 5 == 0", "value": 1.3}, "value": 0.8},
        "tickSize": {"condition": {"test": "datum.value % 5 == 0", "value": 3.5}, "value": 0},
        "labelPadding": 0,
        "titlePadding": -2
      }
    },
    "y": {
      "field": "y",
      "type": "quantitative",
      "title": "Interest rate",
      "scale": {"domain": [0.05, 10.72], "nice": false, "zero": false},
      "axis": {
        "values": [1.25, 2.5, 3.75, 5, 6.25, 7.5, 8.75, 10],
        "labelExpr": "datum.value % 2.5 == 0 ? datum.value + '%' : ''",
        "gridWidth": {"condition": {"test": "datum.value % 2.5 == 0", "value": 1.3}, "value": 0.8},
        "tickSize": {"condition": {"test": "datum.value % 2.5 == 0", "value": 3.5}, "value": 0},
        "labelPadding": 4,
        "titlePadding": 3
      }
    },
    "color": {
      "field": "s",
      "type": "nominal",
      "scale": {
        "domain": ["BBB", "A", "AA", "AAA", "10yr Treas"],
        "range": ["#4C7DD4", "#EA5430", "#FFA621", "#35AD35", "#A42BA9"]
      },
      "legend": {
        "title": null,
        "orient": "none",
        "legendX": 834,
        "legendY": 80,
        "padding": 0,
        "symbolType": "stroke",
        "symbolSize": 3481,
        "symbolStrokeWidth": 5,
        "symbolOpacity": 0.8,
        "labelFont": "Liberation Sans",
        "labelFontSize": 77,
        "labelColor": "black",
        "labelOffset": 37,
        "labelLimit": 0,
        "rowPadding": 0
      }
    }
  }
}
